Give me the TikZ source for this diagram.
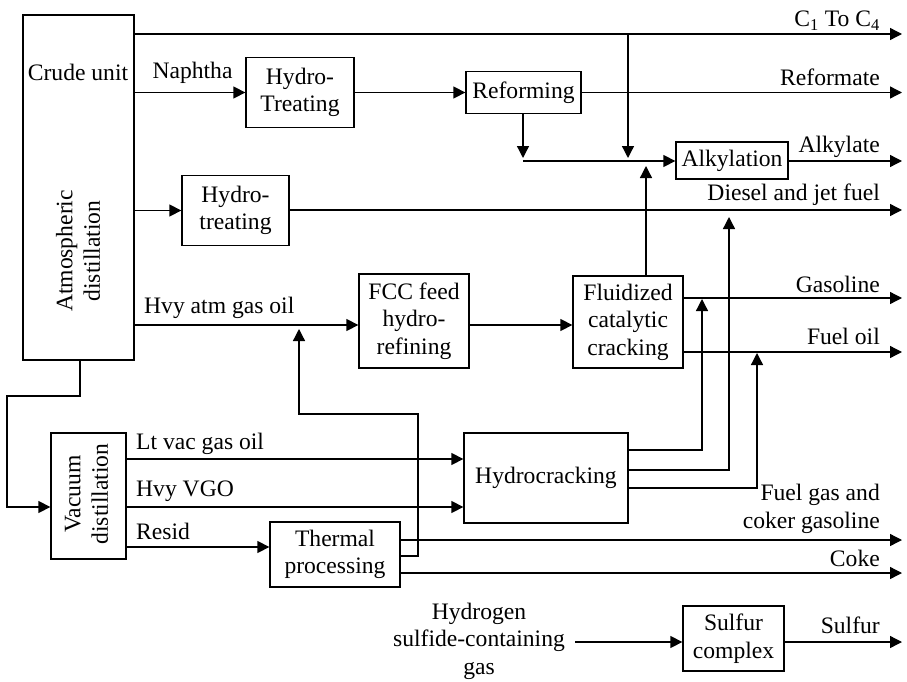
\documentclass[tikz,border=0pt]{standalone}
\usepackage{fontspec}
\setmainfont{Liberation Serif}
\usetikzlibrary{arrows.meta}
\begin{document}
\begin{tikzpicture}[x=1pt,y=-1pt,
  every node/.style={font=\fontsize{23.6}{27.5}\selectfont},
  box/.style={draw, line width=1.3pt, align=center, inner sep=0pt},
  ln/.style={line width=1.3pt},
  arr/.style={line width=1.3pt, -{Triangle[length=12pt,width=12pt]}},
  lab/.style={inner sep=0pt}]
\useasboundingbox (0,0) rectangle (907,682);

% boxes
\node[box, minimum width=111pt, minimum height=345pt] (crude) at (78.5,187.5) {};
\node[lab, anchor=base] (crudet) at (78,81) {Crude unit};
\node[lab, rotate=90, align=center] (atmt) at (78,251) {Atmospheric\\distillation};
\node[box, minimum width=108pt, minimum height=70pt] (ht) at (300,92.5) {Hydro-\\Treating};
\node[box, minimum width=115pt, minimum height=42pt] (ref) at (523.5,92.5) {Reforming};
\node[box, minimum width=112pt, minimum height=37pt] (alk) at (732,160.5) {Alkylation};
\node[box, minimum width=107pt, minimum height=70pt] (htr) at (235.5,210.5) {Hydro-\\treating};
\node[box, minimum width=110pt, minimum height=94pt] (fccf) at (414,321) {FCC feed\\hydro-\\refining};
\node[box, minimum width=110pt, minimum height=92pt] (fcc) at (628,322) {Fluidized\\catalytic\\cracking};
\node[box, minimum width=164pt, minimum height=90pt] (hcr) at (546,478) {Hydrocracking};
\node[box, minimum width=75pt, minimum height=126pt] (vac) at (88.5,496) {};
\node[lab, rotate=90, align=center] (vact) at (86.5,494) {Vacuum\\distillation};
\node[box, minimum width=130pt, minimum height=65pt] (thp) at (335,554.5) {Thermal\\processing};
\node[box, minimum width=101pt, minimum height=65pt] (sul) at (733.5,638.5) {Sulfur\\complex};
\node[lab, align=center] (h2s) at (479,641) {Hydrogen\\sulfide-containing\\gas};

% output end points
\coordinate (oC) at (902,34);
\coordinate (oRef) at (902,92.5);
\coordinate (oAlk) at (902,160.5);
\coordinate (oDie) at (902,210);
\coordinate (oGas) at (902,298);
\coordinate (oFo) at (902,352);
\coordinate (oFg) at (902,540);
\coordinate (oCk) at (902,573);
\coordinate (oS) at (902,642);

% output labels
\node[lab, anchor=base east] (lC) at (880,27) {C\textsubscript{1} To C\textsubscript{4}};
\node[lab, anchor=base east] (lRef) at (880,86) {Reformate};
\node[lab, anchor=base east] (lAlk) at (880,152) {Alkylate};
\node[lab, anchor=base east] (lDie) at (880,200) {Diesel and jet fuel};
\node[lab, anchor=base east] (lGas) at (880,292) {Gasoline};
\node[lab, anchor=base east] (lFo) at (880,344) {Fuel oil};
\node[lab, anchor=east, align=right] (lFg) at (880,509) {Fuel gas and\\coker gasoline};
\node[lab, anchor=base east] (lCk) at (880,566) {Coke};
\node[lab, anchor=base east] (lS) at (880,633) {Sulfur};

% stream labels
\node[lab, anchor=base] (lNa) at (192.5,79) {Naphtha};
\node[lab, anchor=base west] (lHa) at (144,313) {Hvy atm gas oil};
\node[lab, anchor=base west] (lLv) at (136,449) {Lt vac gas oil};
\node[lab, anchor=base west] (lHv) at (136,496.5) {Hvy VGO};
\node[lab, anchor=base west] (lRe) at (136,539) {Resid};

% top section
\draw[arr] (crude.east |- oC) -- (oC);
\coordinate (j1) at (628,34);
\draw[arr] (j1) -- (628,158);
\draw[arr] (crude.east |- ht.west) -- (ht.west);
\draw[arr] (ht.east) -- (ref.west);
\draw[arr] (ref.east) -- (oRef);
\draw[arr] (ref.south -| 523,0) -- (523,158);
\draw[arr] (523,161) -- (alk.west |- 0,161);
\draw[arr] (alk.east |- 0,161) -- (oAlk |- 0,161);
\draw[arr] (fcc.north -| 646,0) -- (646,166);

% diesel
\draw[arr] (crude.east |- htr.west) -- (htr.west);
\draw[arr] (htr.east |- oDie) -- (oDie);

% heavy atm gas oil
\draw[arr] (crude.east |- 0,325) -- (fccf.west |- 0,325);
\draw[arr] (fccf.east |- 0,325) -- (fcc.west |- 0,325);
\draw[arr] (fcc.east |- oGas) -- (oGas);
\draw[arr] (fcc.east |- oFo) -- (oFo);

% hydrocracker outputs
\draw[arr] (hcr.east |- 0,450) -- (702,450) -- (702,299);
\draw[arr] (hcr.east |- 0,470) -- (729,470) -- (729,217);
\draw[arr] (hcr.east |- 0,488) -- (757,488) -- (757,353);

% crude to vacuum
\draw[arr] (crude.south -| 80,0) -- (80,396) -- (7,396) -- (7,507) -- (vac.west |- 0,507);

% vacuum outputs
\draw[arr] (vac.east |- 0,459) -- (hcr.west |- 0,459);
\draw[arr] (vac.east |- 0,507) -- (hcr.west |- 0,507);
\draw[arr] (vac.east |- 0,547) -- (thp.west |- 0,547);

% thermal outputs
\draw[arr] (thp.east |- oFg) -- (oFg);
\draw[arr] (thp.east |- 0,556) -- (418,556) -- (418,414) -- (299,414) -- (299,329);
\draw[arr] (thp.east |- oCk) -- (oCk);

% sulfur
\draw[arr] (575,642) -- (sul.west |- 0,642);
\draw[arr] (sul.east |- oS) -- (oS);
\end{tikzpicture}
\end{document}
